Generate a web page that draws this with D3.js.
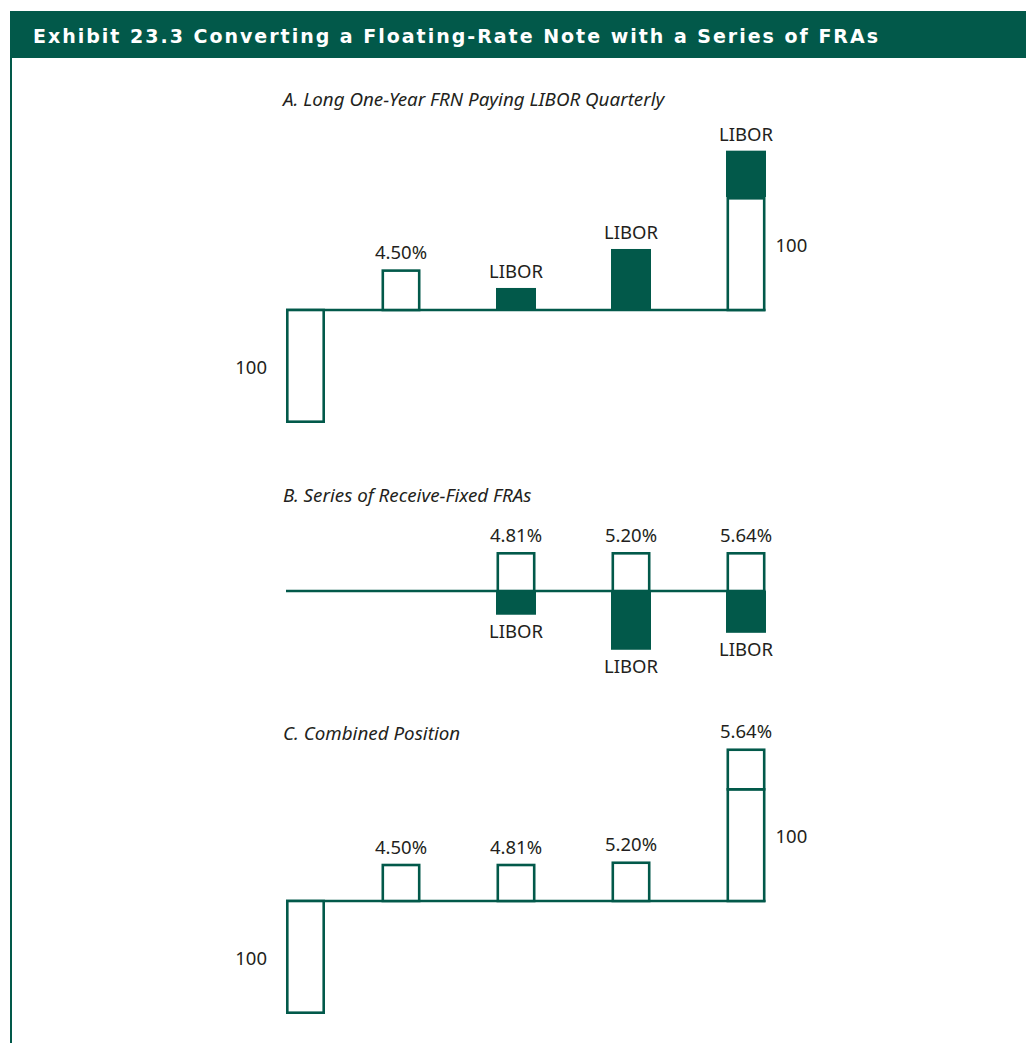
<!DOCTYPE html>
<html>
<head>
<meta charset="utf-8">
<script src="https://cdn.jsdelivr.net/npm/d3@7"></script>
<style>
  body { margin: 0; background: #fff; }
  svg { display: block; }
</style>
</head>
<body>
<svg id="chart"></svg>
<script>
// quarters of the one-year note
const periods = [0, 1, 2, 3, 4];
const fixedLabels = ['4.50%', '4.81%', '5.20%', '5.64%'];
const principal = 100;
// schematic drawn sizes (principal = 100)
const couponA = 36;
const liborA = [19.5, 54, 41];      // periods 2..4, paid
const fixedB = [34.5, 34.5, 34.5];  // periods 2..4, received fixed
const liborB = [21, 52, 37];        // periods 2..4, paid LIBOR
const fixedC = [33, 33, 35, 35];    // periods 1..4

const green = '#02594a';
const W = 1026, H = 1043;
const sw = 2.6;
const barW = 39;

const svg = d3.select('#chart').attr('width', W).attr('height', H);

// header band
svg.append('rect')
    .attr('x', 10).attr('y', 11)
    .attr('width', W - 10).attr('height', 47)
    .attr('fill', green);
svg.append('text')
    .attr('x', 33).attr('y', 42.5)
    .attr('fill', '#fff')
    .attr('font-family', 'DejaVu Sans, Liberation Sans, sans-serif')
    .attr('font-weight', 'bold')
    .attr('font-size', 19)
    .attr('textLength', 845)
    .attr('lengthAdjust', 'spacing')
    .text('Exhibit 23.3 Converting a Floating-Rate Note with a Series of FRAs');
svg.append('line')
    .attr('x1', 11).attr('x2', 11)
    .attr('y1', 58).attr('y2', H)
    .attr('stroke', green).attr('stroke-width', 2);

const x = d3.scaleLinear().domain([0, 4]).range([286, 746]);
const h = d3.scaleLinear().domain([0, principal]).range([0, 113]);

// each flow: period, base offset, signed size, filled?, label, label position
const panels = [
    {
        title: 'A. Long One-Year FRN Paying LIBOR Quarterly',
        titleY: 106, base: 310,
        flows: [
            { t: 0, from: 0, size: -principal, fill: false, label: '100', pos: 'left' },
            { t: 1, from: 0, size: couponA, fill: false, label: fixedLabels[0], pos: 'top' },
            { t: 2, from: 0, size: liborA[0], fill: true, label: 'LIBOR', pos: 'top' },
            { t: 3, from: 0, size: liborA[1], fill: true, label: 'LIBOR', pos: 'top' },
            { t: 4, from: 0, size: principal, fill: false, label: '100', pos: 'right' },
            { t: 4, from: principal, size: liborA[2], fill: true, label: 'LIBOR', pos: 'top' },
        ],
    },
    {
        title: 'B. Series of Receive-Fixed FRAs',
        titleY: 502, base: 591,
        flows: [2, 3, 4].flatMap((t, i) => [
            { t, from: 0, size: fixedB[i], fill: false, label: fixedLabels[i + 1], pos: 'top' },
            { t, from: 0, size: -liborB[i], fill: true, label: 'LIBOR', pos: 'bottom' },
        ]),
    },
    {
        title: 'C. Combined Position',
        titleY: 740, base: 901,
        flows: [
            { t: 0, from: 0, size: -principal, fill: false, label: '100', pos: 'left' },
            { t: 1, from: 0, size: fixedC[0], fill: false, label: fixedLabels[0], pos: 'top' },
            { t: 2, from: 0, size: fixedC[1], fill: false, label: fixedLabels[1], pos: 'top' },
            { t: 3, from: 0, size: fixedC[2], fill: false, label: fixedLabels[2], pos: 'top' },
            { t: 4, from: 0, size: principal, fill: false, label: '100', pos: 'right' },
            { t: 4, from: principal, size: fixedC[3], fill: false, label: fixedLabels[3], pos: 'top' },
        ],
    },
];

const labelFont = 'Noto Sans, Open Sans, sans-serif';

panels.forEach(p => {
    const g = svg.append('g');
    const base = p.base;
    // left edge of a bar: period 0 starts at the origin, others centred
    const left = d => (d.t === 0 ? x(0) : x(d.t) - barW / 2);
    const y0 = d => base - h(Math.max(d.from, d.from + d.size));
    const y1 = d => base - h(Math.min(d.from, d.from + d.size));

    // outline box edges: edges sitting on the axis or on another box are shared
    const boxTop = d => (d.from === 0 && d.size < 0 ? y0(d) : y0(d) + sw / 2);
    const boxBottom = d => {
        if (d.from === 0 && d.size > 0) return y1(d);
        if (d.from > 0) return y1(d) + sw / 2;
        return y1(d) - sw / 2;
    };

    g.append('text')
        .attr('x', 283).attr('y', p.titleY)
        .attr('font-family', labelFont)
        .attr('font-style', 'italic')
        .attr('font-size', 18.8)
        .attr('fill', '#231f20')
        .text(p.title);

    g.append('line')
        .attr('x1', x(0)).attr('x2', x(4) + barW / 2)
        .attr('y1', base).attr('y2', base)
        .attr('stroke', green).attr('stroke-width', sw);

    const outline = p.flows.filter(d => !d.fill);
    const filled = p.flows.filter(d => d.fill);

    g.selectAll('rect.out')
        .data(outline)
        .join('rect')
        .attr('class', 'out')
        .attr('x', d => left(d) + sw / 2)
        .attr('width', barW - sw)
        .attr('y', boxTop)
        .attr('height', d => boxBottom(d) - boxTop(d))
        .attr('fill', '#fff')
        .attr('stroke', green)
        .attr('stroke-width', sw);

    g.selectAll('rect.fill')
        .data(filled)
        .join('rect')
        .attr('class', 'fill')
        .attr('x', d => left(d) - 0.5)
        .attr('width', barW + 1)
        .attr('y', y0)
        .attr('height', d => y1(d) - y0(d))
        .attr('fill', green);

    g.selectAll('text.lbl')
        .data(p.flows)
        .join('text')
        .attr('class', 'lbl')
        .attr('font-family', labelFont)
        .attr('font-size', 18.5)
        .attr('fill', '#231f20')
        .attr('text-anchor', d => (d.pos === 'left' ? 'end' : d.pos === 'right' ? 'start' : 'middle'))
        .attr('x', d => {
            if (d.pos === 'left') return left(d) - 19;
            if (d.pos === 'right') return left(d) + barW + 10;
            return left(d) + barW / 2;
        })
        .attr('y', d => {
            if (d.pos === 'top') return y0(d) - 10;
            if (d.pos === 'bottom') return y1(d) + 23;
            if (d.pos === 'left') return (y0(d) + y1(d)) / 2 + 7;
            return (y0(d) + y1(d)) / 2 - 2;
        })
        .text(d => d.label);
});
</script>
</body>
</html>
